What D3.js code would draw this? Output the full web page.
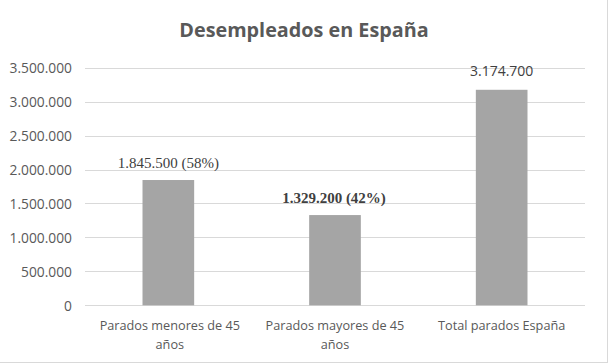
<!DOCTYPE html>
<html><head><meta charset="utf-8">
<script src="https://cdn.jsdelivr.net/npm/d3@7"></script>
<style>
html,body{margin:0;padding:0;background:#fff;}
svg{display:block;}
</style></head>
<body>
<script>
const categories = [["Parados menores de 45", "años"], ["Parados mayores de 45", "años"], ["Total parados España"]];
const values = [1845500, 1329200, 3174700];
const dataLabels = ["1.845.500 (58%)", "1.329.200 (42%)", "3.174.700"];
const yTicks = [0, 500000, 1000000, 1500000, 2000000, 2500000, 3000000, 3500000];
const title = "Desempleados en España";

const W = 608, H = 364;
const svg = d3.select("body").append("svg").attr("width", W).attr("height", H);

// border (right & bottom visible)
svg.append("line").attr("x1", 607.5).attr("x2", 607.5).attr("y1", 0).attr("y2", 362.5).attr("stroke", "#d9d9d9").attr("stroke-width", 1);
svg.append("line").attr("x1", 0).attr("x2", 608).attr("y1", 362.5).attr("y2", 362.5).attr("stroke", "#d9d9d9").attr("stroke-width", 1);

const sans = "'Open Sans', 'DejaVu Sans', sans-serif";
const serif = "'Liberation Serif', 'Times New Roman', serif";

const x = d3.scaleBand().domain(d3.range(categories.length)).range([85, 585]).paddingInner(0.69).paddingOuter(0.345);
const y = d3.scaleLinear().domain([0, 3500000]).range([305.3, 67.7]);

const fmt = v => d3.format(",")(v).replace(/,/g, ".");

// gridlines
svg.append("g").selectAll("line").data(yTicks).join("line")
  .attr("x1", 85).attr("x2", 585)
  .attr("y1", d => Math.round(y(d)) + 0.5).attr("y2", d => Math.round(y(d)) + 0.5)
  .attr("stroke", "#d9d9d9").attr("stroke-width", 1);

// y axis labels
const yAxis = d3.axisLeft(y).tickValues(yTicks).tickFormat(fmt).tickSize(0).tickPadding(0);
const gy = svg.append("g").attr("transform", "translate(72,0)").call(yAxis);
gy.select(".domain").remove();
gy.selectAll("text").attr("font-family", sans).attr("font-size", 13.8).attr("fill", "#595959").attr("dy", "0.35em");

// bars
svg.append("g").selectAll("rect").data(values).join("rect")
  .attr("x", (d, i) => x(i)).attr("width", x.bandwidth())
  .attr("y", d => y(d)).attr("height", d => y(0) - y(d))
  .attr("fill", "#a5a5a5");

// x labels
const gx = svg.append("g");
categories.forEach((lines, i) => {
  const t = gx.append("text").attr("x", x(i) + x.bandwidth() / 2).attr("y", 330)
    .attr("text-anchor", "middle").attr("font-family", sans).attr("font-size", 12.7).attr("fill", "#595959");
  lines.forEach((l, j) => t.append("tspan").attr("x", x(i) + x.bandwidth() / 2 + (i === 0 ? 1.5 : 0)).attr("dy", j ? 18.5 : 0).text(l));
});

// data labels
const labelStyles = [
  {font: serif, weight: "normal", size: 15, dx: 0, dy: -12},
  {font: serif, weight: "bold", size: 15, dx: -1, dy: -12.5},
  {font: sans, weight: "normal", size: 14, dx: 0, dy: -13.5}
];
svg.append("g").selectAll("text").data(values).join("text")
  .attr("x", (d, i) => x(i) + x.bandwidth() / 2 + labelStyles[i].dx)
  .attr("y", (d, i) => y(d) + labelStyles[i].dy)
  .attr("text-anchor", "middle")
  .attr("font-family", (d, i) => labelStyles[i].font)
  .attr("font-weight", (d, i) => labelStyles[i].weight)
  .attr("font-size", (d, i) => labelStyles[i].size)
  .attr("fill", "#404040")
  .text((d, i) => dataLabels[i]);

// title
svg.append("text").attr("x", 304).attr("y", 37).attr("text-anchor", "middle")
  .attr("font-family", sans).attr("font-weight", "bold").attr("font-size", 19.8).attr("fill", "#595959")
  .text(title);
</script>
</body></html>
